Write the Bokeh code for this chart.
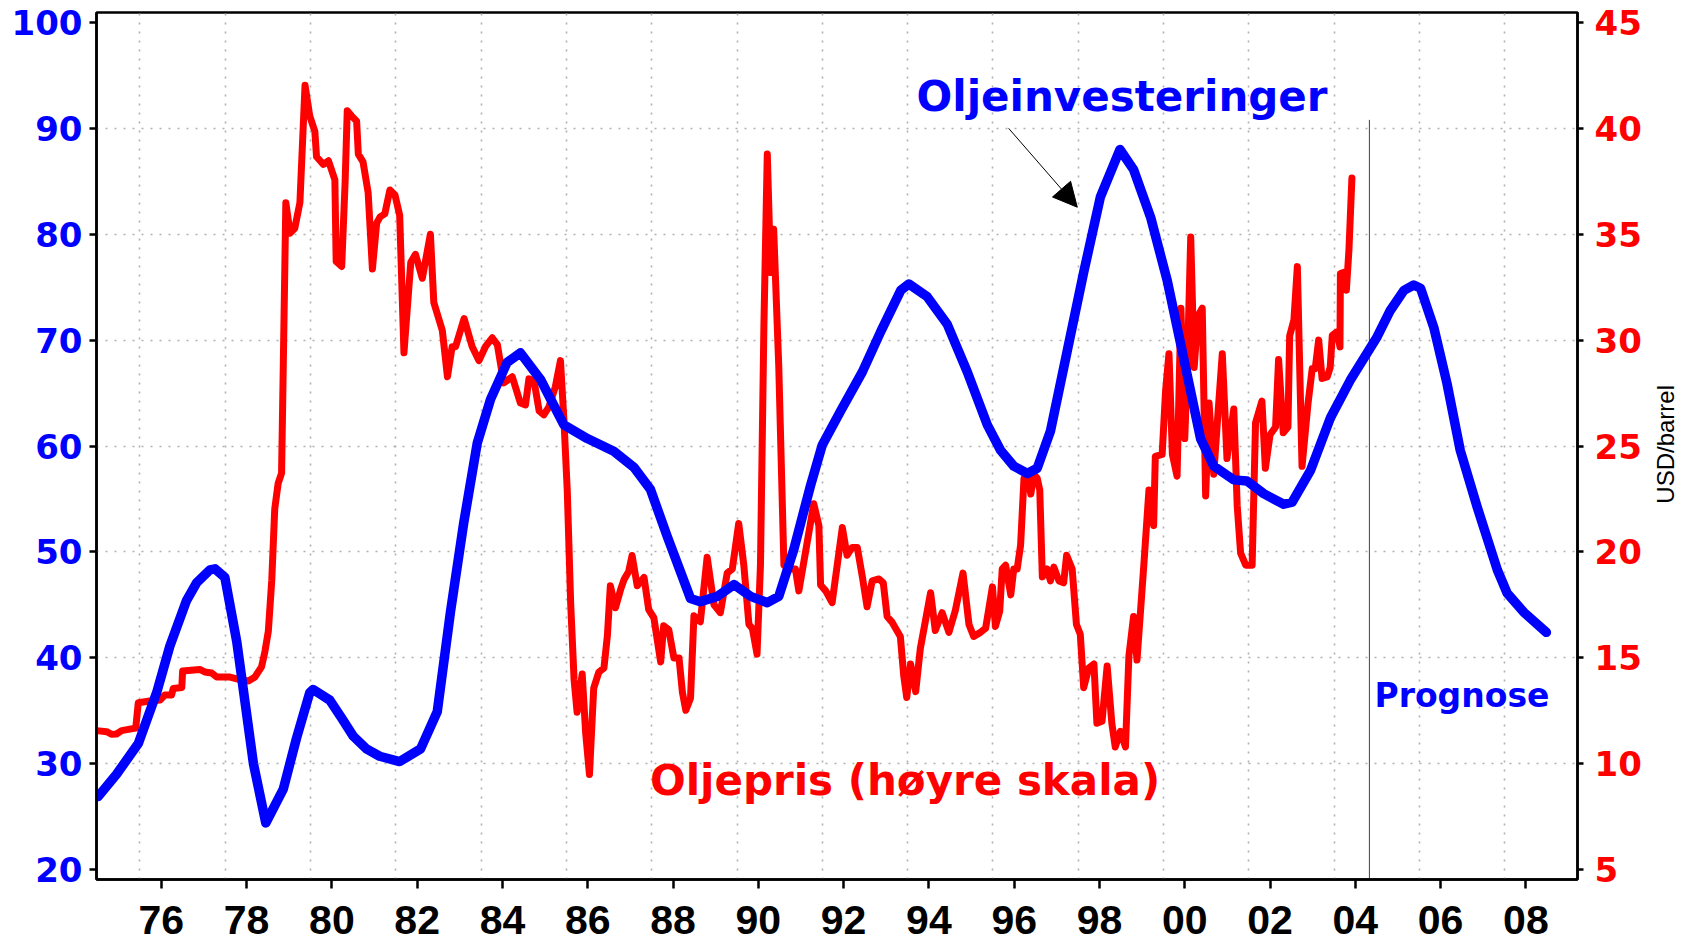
import math
from bokeh.plotting import figure
from bokeh.models import Range1d, LinearAxis, FixedTicker, Label, Arrow, NormalHead, Div
from bokeh.layouts import row
from bokeh.embed import file_html
from bokeh.resources import INLINE

# ---- Oil investment (left axis) ----
inv_year = [1974.52, 1974.95, 1975.46, 1975.89, 1976.20, 1976.59, 1976.83, 1977.14, 1977.26,
            1977.49, 1977.77, 1978.16, 1978.45, 1978.86, 1979.17, 1979.48, 1979.56, 1979.95,
            1980.23, 1980.50, 1980.81, 1981.12, 1981.59, 1982.08, 1982.47, 1982.78, 1983.09,
            1983.41, 1983.72, 1984.11, 1984.42, 1984.89, 1985.44, 1985.99, 1986.61, 1987.08,
            1987.47, 1987.86, 1988.41, 1988.64, 1989.04, 1989.43, 1989.82, 1990.21, 1990.48,
            1990.83, 1991.22, 1991.50, 1991.93, 1992.44, 1992.87, 1993.34, 1993.53, 1993.96,
            1994.43, 1994.90, 1995.37, 1995.68, 1995.99, 1996.31, 1996.54, 1996.85, 1997.24,
            1997.63, 1998.02, 1998.48, 1998.80, 1999.20, 1999.59, 1999.98, 2000.37, 2000.68,
            2001.15, 2001.46, 2001.85, 2002.32, 2002.52, 2002.95, 2003.42, 2003.88, 2004.51,
            2004.82, 2005.14, 2005.37, 2005.53, 2005.84, 2006.15, 2006.46, 2006.86, 2007.33,
            2007.56, 2007.95, 2008.48]
inv_value = [26.9, 29.0, 31.9, 36.7, 41.1, 45.4, 47.1, 48.3, 48.4,
             47.6, 41.5, 30.0, 24.4, 27.6, 32.4, 36.7, 37.0, 36.0,
             34.3, 32.6, 31.4, 30.7, 30.2, 31.4, 34.9, 44.3, 52.7,
             60.3, 64.4, 67.9, 68.8, 66.3, 62.0, 60.7, 59.5, 58.0,
             55.9, 51.5, 45.6, 45.3, 45.8, 46.9, 45.8, 45.2, 45.8,
             50.2, 56.2, 60.1, 63.3, 67.0, 70.8, 74.7, 75.3, 74.1,
             71.5, 67.0, 62.0, 59.6, 58.1, 57.4, 57.9, 61.4, 68.9,
             76.4, 83.5, 88.0, 86.1, 81.6, 75.6, 68.2, 60.7, 58.1,
             56.8, 56.7, 55.5, 54.5, 54.7, 57.7, 62.7, 66.2, 70.3,
             72.8, 74.7, 75.2, 74.9, 71.2, 65.9, 59.6, 54.2, 48.3,
             46.1, 44.3, 42.4]

# ---- Oil price, USD/barrel (right axis) ----
oil_year = [1974.48, 1974.72, 1974.83, 1974.95, 1975.07, 1975.26, 1975.40, 1975.46, 1975.73, 1975.97,
            1976.08, 1976.24, 1976.28, 1976.48, 1976.50, 1976.90, 1977.02, 1977.18, 1977.30, 1977.61,
            1977.84, 1978.04, 1978.19, 1978.35, 1978.43, 1978.51, 1978.59, 1978.66, 1978.74, 1978.82,
            1978.86, 1978.92, 1979.02, 1979.13, 1979.25, 1979.37, 1979.48, 1979.60, 1979.64, 1979.80,
            1979.92, 1980.07, 1980.10, 1980.23, 1980.31, 1980.36, 1980.46, 1980.58, 1980.62, 1980.73,
            1980.85, 1980.95, 1981.05, 1981.13, 1981.24, 1981.36, 1981.48, 1981.59, 1981.69, 1981.85,
            1981.96, 1982.12, 1982.31, 1982.39, 1982.59, 1982.71, 1982.82, 1982.90, 1983.10, 1983.29,
            1983.45, 1983.60, 1983.76, 1983.88, 1984.03, 1984.23, 1984.42, 1984.54, 1984.62, 1984.74,
            1984.86, 1984.97, 1985.09, 1985.24, 1985.36, 1985.44, 1985.52, 1985.60, 1985.68, 1985.75,
            1985.87, 1985.95, 1986.04, 1986.14, 1986.26, 1986.38, 1986.46, 1986.53, 1986.65, 1986.77,
            1986.85, 1986.96, 1987.04, 1987.16, 1987.32, 1987.43, 1987.55, 1987.71, 1987.78, 1987.90,
            1988.02, 1988.14, 1988.22, 1988.30, 1988.41, 1988.49, 1988.64, 1988.80, 1988.96, 1989.11,
            1989.27, 1989.39, 1989.54, 1989.66, 1989.78, 1989.86, 1989.97, 1990.05, 1990.13, 1990.21,
            1990.29, 1990.36, 1990.48, 1990.60, 1990.75, 1990.87, 1990.95, 1991.15, 1991.30, 1991.42,
            1991.46, 1991.58, 1991.73, 1991.85, 1991.97, 1992.08, 1992.20, 1992.32, 1992.44, 1992.55,
            1992.67, 1992.83, 1992.93, 1993.02, 1993.14, 1993.33, 1993.41, 1993.48, 1993.57, 1993.69,
            1993.80, 1994.04, 1994.15, 1994.31, 1994.47, 1994.62, 1994.80, 1994.94, 1995.05, 1995.21,
            1995.33, 1995.49, 1995.56, 1995.66, 1995.72, 1995.80, 1995.92, 1995.99, 1996.07, 1996.15,
            1996.23, 1996.31, 1996.39, 1996.46, 1996.54, 1996.60, 1996.66, 1996.77, 1996.85, 1996.93,
            1997.05, 1997.16, 1997.23, 1997.36, 1997.46, 1997.55, 1997.63, 1997.75, 1997.87, 1997.94,
            1998.06, 1998.18, 1998.29, 1998.37, 1998.49, 1998.61, 1998.69, 1998.80, 1998.88, 1999.04,
            1999.16, 1999.27, 1999.31, 1999.47, 1999.55, 1999.63, 1999.71, 1999.82, 1999.91, 2000.00,
            2000.06, 2000.14, 2000.22, 2000.31, 2000.41, 2000.49, 2000.57, 2000.68, 2000.77, 2000.88,
            2000.99, 2001.15, 2001.23, 2001.31, 2001.43, 2001.58, 2001.66, 2001.81, 2001.89, 2002.00,
            2002.13, 2002.20, 2002.31, 2002.42, 2002.46, 2002.56, 2002.64, 2002.75, 2002.89, 2002.99,
            2003.06, 2003.14, 2003.22, 2003.34, 2003.41, 2003.46, 2003.57, 2003.64, 2003.65, 2003.77,
            2003.79, 2003.85, 2003.92]
oil_price = [11.56, 11.51, 11.39, 11.40, 11.56, 11.63, 11.68, 12.88, 12.96, 13.00,
             13.24, 13.24, 13.55, 13.60, 14.38, 14.45, 14.33, 14.28, 14.09, 14.09,
             13.97, 13.90, 14.08, 14.57, 15.30, 16.26, 18.66, 22.03, 23.24, 23.72,
             28.78, 36.49, 35.05, 35.28, 36.49, 42.03, 40.59, 39.86, 38.66, 38.30,
             38.47, 37.57, 33.72, 33.48, 37.45, 40.83, 40.59, 40.34, 38.78, 38.42,
             36.97, 33.36, 35.52, 35.82, 35.96, 37.09, 36.85, 35.89, 29.40, 33.68,
             34.05, 32.92, 35.00, 31.78, 30.45, 28.27, 29.69, 29.69, 31.02, 29.69,
             29.03, 29.69, 30.11, 29.79, 27.98, 28.27, 27.03, 26.94, 28.17, 28.08,
             26.66, 26.47, 26.85, 27.80, 29.03, 26.28, 22.87, 17.55, 13.95, 12.43,
             14.23, 11.48, 9.49, 13.57, 14.32, 14.52, 16.03, 18.40, 17.36, 18.22,
             18.69, 19.07, 19.83, 18.40, 18.79, 17.27, 16.89, 14.80, 16.51, 16.32,
             14.99, 14.99, 13.37, 12.52, 13.09, 16.98, 16.70, 19.75, 17.50, 17.13,
             19.00, 19.19, 21.34, 19.37, 16.57, 16.39, 15.17, 19.37, 30.58, 38.79,
             33.19, 35.24, 28.71, 19.37, 19.19, 19.19, 18.16, 20.50, 22.27, 21.24,
             18.44, 18.16, 17.60, 19.37, 21.15, 19.84, 20.21, 20.21, 18.82, 17.41,
             18.63, 18.72, 18.54, 16.95, 16.67, 16.01, 14.15, 13.12, 14.71, 13.40,
             15.45, 18.07, 16.29, 17.13, 16.20, 17.23, 19.00, 16.57, 16.01, 16.20,
             16.39, 18.35, 16.48, 17.20, 19.20, 19.37, 17.97, 19.19, 19.19, 20.31,
             23.48, 23.67, 22.73, 23.67, 23.48, 22.92, 18.82, 19.19, 18.63, 19.28,
             18.63, 18.54, 19.84, 19.19, 16.57, 16.11, 13.59, 14.52, 14.71, 11.91,
             12.00, 14.61, 11.91, 10.79, 11.53, 10.79, 15.08, 16.95, 14.89, 19.37,
             22.92, 21.24, 24.51, 24.60, 27.59, 29.36, 24.60, 23.57, 31.51, 25.35,
             28.71, 34.87, 28.71, 31.14, 31.51, 22.64, 27.03, 23.67, 26.28, 29.36,
             24.41, 26.75, 22.18, 19.94, 19.37, 19.37, 26.10, 27.12, 23.95, 25.53,
             25.90, 29.08, 25.63, 25.90, 30.20, 30.95, 33.47, 24.04, 27.00, 28.66,
             28.66, 30.00, 28.19, 28.26, 28.70, 30.23, 30.39, 29.68, 33.14, 33.22,
             32.36, 34.25, 37.65]

x_ticks = list(range(1976, 2009, 2))
x_tick_labels = ["76", "78", "80", "82", "84", "86", "88", "90", "92", "94", "96", "98",
                 "00", "02", "04", "06", "08"]
left_ticks = [20, 30, 40, 50, 60, 70, 80, 90, 100]
right_ticks = [5, 10, 15, 20, 25, 30, 35, 40, 45]
right_unit = "USD/barrel"

prognose_year = 2004.33
prognose_top = 90.8

BLUE = "#0000ff"
RED = "#ff0000"

p = figure(width=1657, height=944,
           x_range=Range1d(1974.48, 2009.21), y_range=Range1d(19.06, 100.94),
           output_backend="svg", toolbar_location=None,
           min_border_left=96, min_border_right=80, min_border_top=12, min_border_bottom=65)
p.extra_y_ranges = {"price": Range1d(4.53, 45.47)}
p.background_fill_color = "white"
p.border_fill_color = "white"
p.outline_line_color = "black"
p.outline_line_width = 2.5

# grid
p.xgrid.ticker = FixedTicker(ticks=[t - 0.5 for t in x_ticks] + [2009.5])
p.ygrid.ticker = FixedTicker(ticks=[30, 40, 50, 60, 70, 80, 90])
p.grid.grid_line_color = "#b0b0b0"
p.grid.grid_line_width = 1.6
p.grid.grid_line_dash = "2 7"

# bottom axis
xa = p.xaxis[0]
xa.ticker = FixedTicker(ticks=x_ticks)
xa.major_label_overrides = {t: l for t, l in zip(x_ticks, x_tick_labels)}
xa.major_label_text_font = "Liberation Sans"
xa.major_label_text_font_style = "bold"
xa.major_label_text_font_size = "41px"
xa.major_label_text_color = "black"
xa.major_label_standoff = 17

# left axis
ya = p.yaxis[0]
ya.ticker = FixedTicker(ticks=left_ticks)
ya.major_label_text_font = "DejaVu Sans"
ya.major_label_text_font_style = "bold"
ya.major_label_text_font_size = "34px"
ya.major_label_text_color = BLUE
ya.major_label_standoff = 7

# right axis
ra = LinearAxis(y_range_name="price", ticker=FixedTicker(ticks=right_ticks))
ra.major_label_text_font = "DejaVu Sans"
ra.major_label_text_font_style = "bold"
ra.major_label_text_font_size = "34px"
ra.major_label_text_color = RED
ra.major_label_standoff = 11
p.add_layout(ra, "right")

for ax, tout in ((xa, 9), (ya, 7), (ra, 6)):
    ax.axis_line_color = "black"
    ax.axis_line_width = 2.5
    ax.major_tick_line_color = "black"
    ax.major_tick_line_width = 2.5
    ax.major_tick_out = tout
    ax.major_tick_in = 0
    ax.minor_tick_out = 0
    ax.minor_tick_in = 0

# forecast separator
p.segment(x0=[prognose_year], y0=[19.06], x1=[prognose_year], y1=[prognose_top],
          line_color="#404040", line_width=1)

# series
p.line(oil_year, oil_price, y_range_name="price", line_color=RED, line_width=7,
       line_join="round", line_cap="round")
p.line(inv_year, inv_value, line_color=BLUE, line_width=9.5,
       line_join="round", line_cap="round")

# annotations
p.add_layout(Label(x=1998.53, y=93.05, text="Oljeinvesteringer", text_align="center",
                   text_baseline="alphabetic", text_font="DejaVu Sans", text_font_style="bold",
                   text_font_size="42px", text_color=BLUE))
p.add_layout(Label(x=1993.44, y=28.4, text="Oljepris (høyre skala)", text_align="center",
                   text_baseline="alphabetic", text_font="DejaVu Sans", text_font_style="bold",
                   text_font_size="42px", text_color=RED))
p.add_layout(Label(x=2006.5, y=36.4, text="Prognose", text_align="center",
                   text_baseline="alphabetic", text_font="DejaVu Sans", text_font_style="bold",
                   text_font_size="33px", text_color=BLUE))
p.add_layout(Arrow(end=NormalHead(size=24, fill_color="black", line_color="black"),
                   x_start=1995.87, y_start=90.0, x_end=1997.48, y_end=82.55,
                   line_color="black", line_width=1))

# right-hand unit title (reads bottom to top, centred on the plot frame)
unit_div = Div(
    text=('<div style="width:18px;height:888px;display:flex;align-items:center;'
          'justify-content:center;">'
          '<span style="writing-mode:vertical-rl;transform:rotate(180deg);'
          "font-family:'Liberation Sans',Arial,sans-serif;font-size:24px;line-height:20px;"
          'white-space:nowrap;color:black;">' + right_unit + '</span></div>'),
    width=24, height=944, margin=0)

layout = row(p, unit_div, spacing=0)

open("out.html", "w").write(file_html(layout, INLINE))
